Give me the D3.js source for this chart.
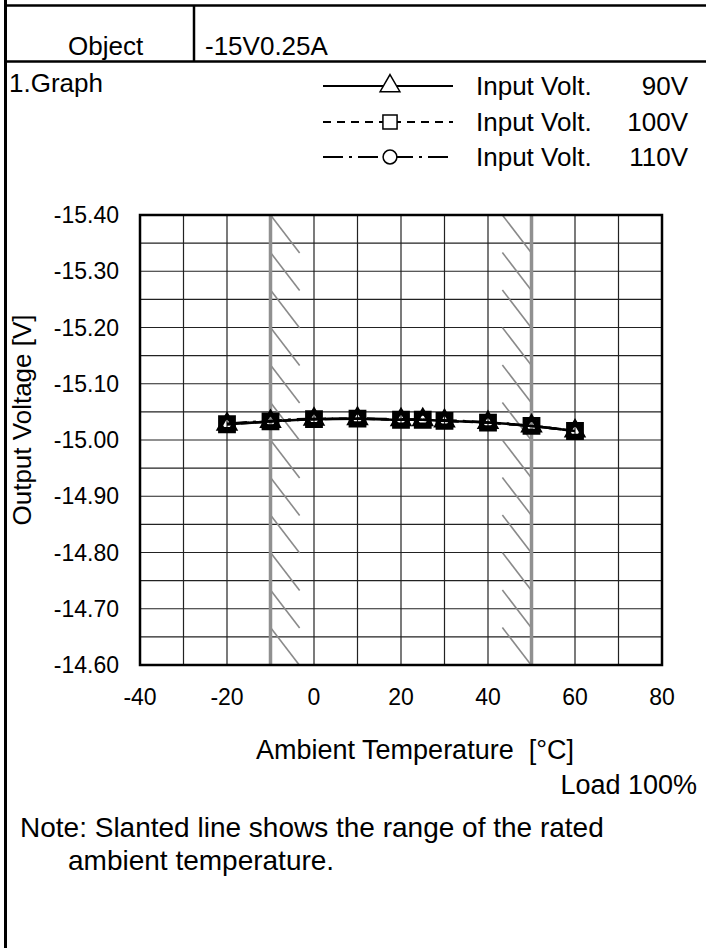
<!DOCTYPE html>
<html lang="en">
<head>
<meta charset="utf-8">
<title>-15V0.25A temperature drift</title>
<script src="https://cdn.jsdelivr.net/npm/d3@7"></script>
<style>
  body { margin: 0; background: #fff; }
  svg text { font-family: "Liberation Sans", Arial, sans-serif; fill: #000; }
</style>
</head>
<body>
<div id="drawing"></div>
<script>
// data
var temps = [-20, -10, 0, 10, 20, 25, 30, 40, 50, 60];
var volt90 = [-15.028, -15.033, -15.037, -15.038, -15.036, -15.036, -15.034, -15.031, -15.025, -15.016];
var volt100 = [-15.028, -15.033, -15.037, -15.038, -15.036, -15.036, -15.034, -15.031, -15.025, -15.016];
var volt110 = [-15.029, -15.034, -15.038, -15.038, -15.037, -15.036, -15.035, -15.031, -15.025, -15.016];
var seriesNames = ["Input Volt.", "Input Volt.", "Input Volt."];
var seriesVolts = ["90V", "100V", "110V"];
var xTicks = [-40, -20, 0, 20, 40, 60, 80];
var yTicks = [-15.40, -15.30, -15.20, -15.10, -15.00, -14.90, -14.80, -14.70, -14.60];
var ratedRange = [-10, 50];

function draw() {
    var W = 706, H = 948;
    var svg = d3.select("#drawing").append("svg")
        .attr("width", W).attr("height", H);

    // frame / header table
    svg.append("line").attr("x1", 5.5).attr("y1", 0).attr("x2", 5.5).attr("y2", H)
        .style("stroke", "#000").style("stroke-width", 3);
    svg.append("line").attr("x1", 4).attr("y1", 5.5).attr("x2", W).attr("y2", 5.5)
        .style("stroke", "#000").style("stroke-width", 2.5);
    svg.append("line").attr("x1", 4).attr("y1", 61.5).attr("x2", W).attr("y2", 61.5)
        .style("stroke", "#000").style("stroke-width", 2.5);
    svg.append("line").attr("x1", 194).attr("y1", 5).attr("x2", 194).attr("y2", 62)
        .style("stroke", "#000").style("stroke-width", 2.5);
    svg.append("text").attr("x", 68).attr("y", 55).style("font-size", "26px").text("Object");
    svg.append("text").attr("x", 205).attr("y", 55).style("font-size", "26px").text("-15V0.25A");
    svg.append("text").attr("x", 9).attr("y", 92).style("font-size", "26px").text("1.Graph");

    // scales
    var pLeft = 140, pRight = 662, pTop = 215, pBottom = 665;
    var x = d3.scaleLinear().domain([-40, 80]).range([pLeft, pRight]);
    var y = d3.scaleLinear().domain([-15.40, -14.60]).range([pTop, pBottom]);

    // grid
    var plot = svg.append("g");
    plot.append("g").selectAll("line").data(d3.range(-30, 80, 10)).enter().append("line")
        .attr("x1", function(d){ return x(d); }).attr("x2", function(d){ return x(d); })
        .attr("y1", pTop).attr("y2", pBottom)
        .style("stroke", "#222").style("stroke-width", 1.2);
    plot.append("g").selectAll("line").data(d3.range(1, 16)).enter().append("line")
        .attr("x1", pLeft).attr("x2", pRight)
        .attr("y1", function(d){ return y(-15.40 + d * 0.05); })
        .attr("y2", function(d){ return y(-15.40 + d * 0.05); })
        .style("stroke", "#222").style("stroke-width", 1.2);

    // rated temperature range: thick grey line with slants
    var step = 0.8 / 12;
    ratedRange.forEach(function(t, k) {
        var g = plot.append("g");
        g.selectAll("line").data(d3.range(12)).enter().append("line")
            .attr("x1", k == 0 ? x(t) : x(t - 6.7))
            .attr("y1", function(d){ return y(-15.40 + d * step); })
            .attr("x2", k == 0 ? x(t + 6.7) : x(t))
            .attr("y2", function(d){ return y(-15.40 + d * step + 0.0675); })
            .style("stroke", "#8a8a8a").style("stroke-width", 1.6);
        g.append("line").attr("x1", x(t)).attr("x2", x(t)).attr("y1", pTop).attr("y2", pBottom)
            .style("stroke", "#909090").style("stroke-width", 3.5);
    });

    // border
    plot.append("rect").attr("x", pLeft).attr("y", pTop)
        .attr("width", pRight - pLeft).attr("height", pBottom - pTop)
        .style("fill", "none").style("stroke", "#000").style("stroke-width", 2.5);

    // tick labels
    svg.append("g").selectAll("text").data(yTicks).enter().append("text")
        .attr("x", 119).attr("y", function(d){ return y(d) + 8; })
        .attr("text-anchor", "end").style("font-size", "23px")
        .text(function(d){ return d.toFixed(2); });
    svg.append("g").selectAll("text").data(xTicks).enter().append("text")
        .attr("x", function(d){ return x(d); }).attr("y", 705)
        .attr("text-anchor", "middle").style("font-size", "23px")
        .text(function(d){ return String(d); });

    svg.append("text").attr("transform", "translate(31,420) rotate(-90)")
        .attr("text-anchor", "middle").style("font-size", "26px").text("Output Voltage [V]");
    svg.append("text").attr("x", 415).attr("y", 759)
        .attr("text-anchor", "middle").style("font-size", "27px")
        .style("white-space", "pre").text("Ambient Temperature  [\u00B0C]");
    svg.append("text").attr("x", 697).attr("y", 794)
        .attr("text-anchor", "end").style("font-size", "27px").text("Load 100%");
    svg.append("text").attr("x", 20).attr("y", 837).style("font-size", "28px")
        .text("Note: Slanted line shows the range of the rated");
    svg.append("text").attr("x", 68).attr("y", 870).style("font-size", "28px")
        .text("ambient temperature.");

    // series
    var series = [
        { values: volt90, dash: null, shape: d3.symbolTriangle, size: 110 },
        { values: volt100, dash: "8,6", shape: d3.symbolSquare, size: 196 },
        { values: volt110, dash: "20,6,3,6", shape: d3.symbolCircle, size: 110 }
    ];
    var line = d3.line()
        .x(function(d){ return x(d[0]); })
        .y(function(d){ return y(d[1]); })
        .curve(d3.curveMonotoneX);

    series.forEach(function(s) {
        var pts = temps.map(function(t, i){ return [t, s.values[i]]; });
        svg.append("path").datum(pts).attr("d", line)
            .style("fill", "none").style("stroke", "#000").style("stroke-width", 2.5)
            .style("stroke-dasharray", s.dash);
    });
    series.forEach(function(s) {
        svg.append("g").selectAll("path").data(temps).enter().append("path")
            .attr("transform", function(t, i){ return "translate(" + x(t) + "," + y(s.values[i]) + ")"; })
            .attr("d", d3.symbol().type(s.shape).size(s.size))
            .style("fill", "none").style("stroke", "#000").style("stroke-width", 3.8);
    });

    // legend
    var legY = [86, 122, 157];
    var legend = [
        { dash: null, shape: d3.symbolTriangle, size: 170 },
        { dash: "8,6", shape: d3.symbolSquare, size: 200 },
        { dash: "20,6,3,6", shape: d3.symbolCircle, size: 150 }
    ];
    legend.forEach(function(l, i) {
        svg.append("line").attr("x1", 323).attr("x2", 453).attr("y1", legY[i]).attr("y2", legY[i])
            .style("stroke", "#000").style("stroke-width", 2).style("stroke-dasharray", l.dash);
        svg.append("path").attr("transform", "translate(390," + legY[i] + ")")
            .attr("d", d3.symbol().type(l.shape).size(l.size))
            .style("fill", "#fff").style("stroke", "#000").style("stroke-width", 1.5);
        svg.append("text").attr("x", 476).attr("y", legY[i] + 9).style("font-size", "26px").text(seriesNames[i]);
        svg.append("text").attr("x", 688).attr("y", legY[i] + 9).attr("text-anchor", "end")
            .style("font-size", "26px").text(seriesVolts[i]);
    });
}
draw();
</script>
</body>
</html>
